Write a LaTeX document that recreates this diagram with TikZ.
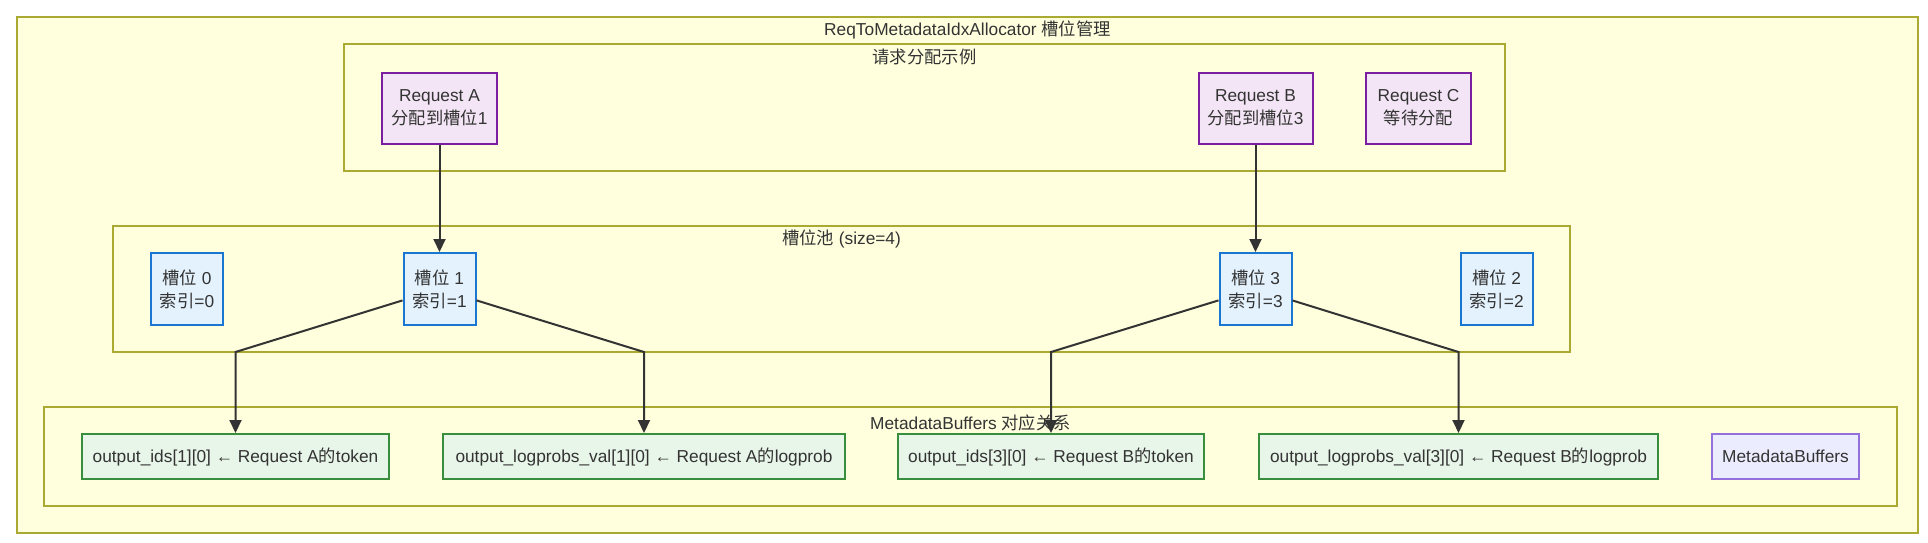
\documentclass[tikz,border=0pt]{standalone}
\usepackage{fontspec}
\setmainfont{Liberation Sans}
\newfontfamily\cjk{Noto Sans CJK SC}
\newcommand{\zh}[1]{{\cjk #1}}
\usetikzlibrary{arrows.meta}
\definecolor{clfill}{HTML}{FFFFDE}
\definecolor{clline}{HTML}{AAAA33}
\definecolor{reqfill}{HTML}{F3E5F5}
\definecolor{reqline}{HTML}{7B1FA2}
\definecolor{slotfill}{HTML}{E3F2FD}
\definecolor{slotline}{HTML}{1976D2}
\definecolor{buffill}{HTML}{E8F5E9}
\definecolor{bufline}{HTML}{388E3C}
\definecolor{mbfill}{HTML}{ECECFF}
\definecolor{mbline}{HTML}{9370DB}
\definecolor{txt}{HTML}{333333}
\tikzset{
  cluster/.style={draw=clline, fill=clfill, line width=1.2pt},
  ctitle/.style={text=txt, inner sep=0pt},
  box/.style={rectangle, inner sep=0pt, align=center, text=txt},
  reqbox/.style={box, draw=reqline, fill=reqfill, line width=2pt, minimum height=71pt},
  slotbox/.style={box, draw=slotline, fill=slotfill, line width=2pt, minimum width=72pt, minimum height=72pt},
  bufbox/.style={box, draw=bufline, fill=buffill, line width=2pt, minimum height=45pt},
  mbbox/.style={box, draw=mbline, fill=mbfill, line width=1.2pt, minimum height=45pt},
  arr/.style={draw=txt, line width=2pt, -{Triangle[length=13pt,width=12pt]}}
}
\begin{document}
\begin{tikzpicture}[x=1pt,y=-1pt, font=\fontsize{17.3}{23}\selectfont]
\useasboundingbox (0,0) rectangle (1928,542);
% clusters
\draw[cluster] (17,17) rectangle (1918,533);
\node[ctitle] (t0) at (967.5,30) {ReqToMetadataIdxAllocator \zh{槽位管理}};
\draw[cluster] (344,44) rectangle (1505,171);
\node[ctitle] (t1) at (924.5,57) {\zh{请求分配示例}};
\draw[cluster] (113,226) rectangle (1570,352);
\node[ctitle] (t2) at (841.5,239) {\zh{槽位池} (size=4)};
\draw[cluster] (44,407) rectangle (1897,506);
\node[ctitle] (t3) at (970.5,423) {MetadataBuffers \zh{对应关系}};
% requests
\node[reqbox, minimum width=115pt] (ra) at (439.5,108) {Request A\\\zh{分配到槽位}1};
\node[reqbox, minimum width=114pt] (rb) at (1255.5,108) {Request B\\\zh{分配到槽位}3};
\node[reqbox, minimum width=105pt] (rc) at (1418.5,108) {Request C\\\zh{等待分配}};
% slots
\node[slotbox] (s0) at (187,289) {\zh{槽位} 0\\\zh{索引}=0};
\node[slotbox] (s1) at (439.5,289) {\zh{槽位} 1\\\zh{索引}=1};
\node[slotbox] (s3) at (1255.5,289) {\zh{槽位} 3\\\zh{索引}=3};
\node[slotbox] (s2) at (1496.5,289) {\zh{槽位} 2\\\zh{索引}=2};
% buffers
\node[bufbox, minimum width=307pt] (b1) at (235.5,456.5) {output\_ids[1][0] ← Request A\zh{的}token};
\node[bufbox, minimum width=402pt] (b2) at (644,456.5) {output\_logprobs\_val[1][0] ← Request A\zh{的}logprob};
\node[bufbox, minimum width=306pt] (b3) at (1051,456.5) {output\_ids[3][0] ← Request B\zh{的}token};
\node[bufbox, minimum width=399pt] (b4) at (1458.5,456.5) {output\_logprobs\_val[3][0] ← Request B\zh{的}logprob};
\node[mbbox, minimum width=147pt] (mb) at (1785.5,456.5) {MetadataBuffers};
% corner points
\coordinate (c1) at (235.5,352);
\coordinate (c2) at (644,352);
\coordinate (c3) at (1051,352);
\coordinate (c4) at (1458.5,352);
% edges
\draw[arr] (ra.south) -- (s1.north);
\draw[arr] (rb.south) -- (s3.north);
\draw[arr] (s1) -- (c1) -- (b1.north);
\draw[arr] (s1) -- (c2) -- (b2.north);
\draw[arr] (s3) -- (c3) -- (b3.north);
\draw[arr] (s3) -- (c4) -- (b4.north);
\end{tikzpicture}
\end{document}
